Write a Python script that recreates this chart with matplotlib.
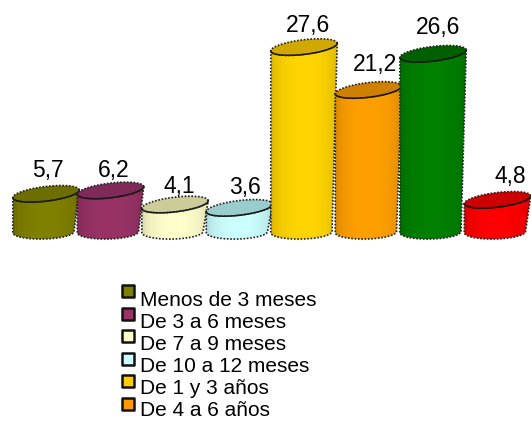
import numpy as np
import matplotlib
matplotlib.use('Agg')
import matplotlib.pyplot as plt
from matplotlib.colors import to_rgb
from matplotlib.markers import MarkerStyle
from matplotlib.patches import Polygon

values = [5.7, 6.2, 4.1, 3.6, 27.6, 21.2, 26.6, 4.8]
value_labels = ['5,7', '6,2', '4,1', '3,6', '27,6', '21,2', '26,6', '4,8']
bar_colors = ['#808000', '#993366', '#FFFFCC', '#CCFFFF', '#FFD500', '#FFA000', '#008000', '#FF0000']
top_colors = ['#6E6E00', '#7F2A58', '#CCCC99', '#99CCCC', '#D0A800', '#D08000', '#006000', '#CC0000']
legend_labels = ['Menos de 3 meses', 'De 3 a 6 meses', 'De 7 a 9 meses',
                 'De 10 a 12 meses', 'De 1 y 3 años', 'De 4 a 6 años']
legend_colors = ['#808000', '#993366', '#FFFFCC', '#CCFFFF', '#FFCC00', '#FF9900']

plt.rcParams['font.family'] = ['Liberation Sans', 'DejaVu Sans']

# pixel layout of the bars
px_per_bar = 64.5
px_per_unit = 6.7
x0_px = 46
base_px = 232

W, H = 531, 421
fig = plt.figure(figsize=(W / 100, H / 100), dpi=100)
ax = fig.add_axes([0, 0, 1, 1])
ax.set_xlim(-x0_px / px_per_bar, (W - x0_px) / px_per_bar)
ax.set_ylim((base_px - H) / px_per_unit, base_px / px_per_unit)
ax.axis('off')

a = 0.515    # half width at the top
b = 1.1      # ellipse half height
s = 0.57     # tilt, right side higher
squeeze = 0.04  # the foot of each bar is a bit narrower on the right

# label nudges in pixels
label_dx = [2, 3, 4, 5, 4, 6, 5, 13]
label_dy = [17, 13.5, 11.5, 14, 15, 19, 20, 17]


def ring(i, v, t):
    return i + a * np.cos(t), v + b * np.sin(t) + s * np.cos(t)


def foot(i, t):
    return i - squeeze + (a - squeeze) * np.cos(t), 1.05 * np.sin(t) + 0.1 * np.cos(t)


for i, (v, col, top) in enumerate(zip(values, bar_colors, top_colors)):
    t = np.linspace(np.pi, 2 * np.pi, 60)
    xt, yt = ring(i, v, t)
    xb, yb = foot(i, t)
    body_x = np.r_[xt, xb[::-1]]
    body_y = np.r_[yt, yb[::-1]]
    body = Polygon(np.c_[body_x, body_y], closed=True, fc='none', ec='none', zorder=2 + i)
    ax.add_patch(body)

    # horizontal shading of the body
    c = np.array(to_rgb(col))
    u = np.linspace(-1, 1, 80)
    shade = 0.82 + 0.18 * np.sqrt(1 - u ** 2)
    img = (c[None, :] * shade[:, None])[None, :, :]
    im = ax.imshow(img, extent=(i - a, i + a, yb.min() - 1, yt.max() + 1), aspect='auto',
                   zorder=2 + i, interpolation='bilinear')
    im.set_clip_path(body)

    # top ellipse
    t2 = np.linspace(0, 2 * np.pi, 120)
    xe, ye = ring(i, v, t2)
    ax.fill(xe, ye, color=top, zorder=2 + i, lw=0)
    ax.plot(xt, yt, color='#111111', lw=1.1, zorder=2 + i)
    # dotted outline
    ax.plot(xe, ye, color='#222222', lw=1.2, ls=(0, (1, 1)), zorder=2 + i)
    ax.plot(np.r_[xt[0], xb, xt[-1]], np.r_[yt[0], yb, yt[-1]], color='#222222',
            lw=1.2, ls=(0, (1, 1)), zorder=2 + i)

    ax.annotate(value_labels[i], (i, v), xytext=(label_dx[i], label_dy[i]), textcoords='offset pixels',
                ha='center', va='baseline', fontsize=16.5, color='black', zorder=20)

# legend, the last entries are cut off in the original
marker = MarkerStyle('s', joinstyle='round')
for k, (lab, col) in enumerate(zip(legend_labels, legend_colors)):
    y_mark = 291 + k * 22.6
    y_text = 305.5 + k * 22.2
    fig.text(140 / W, 1 - y_text / H, lab, fontsize=15, va='baseline', ha='left')
    ax.scatter([(128 - x0_px) / px_per_bar], [(base_px - y_mark) / px_per_unit], marker=marker, s=66,
               c=col, edgecolors='#111111', linewidths=1.8, zorder=30)

fig.savefig('out.png', dpi=100)
